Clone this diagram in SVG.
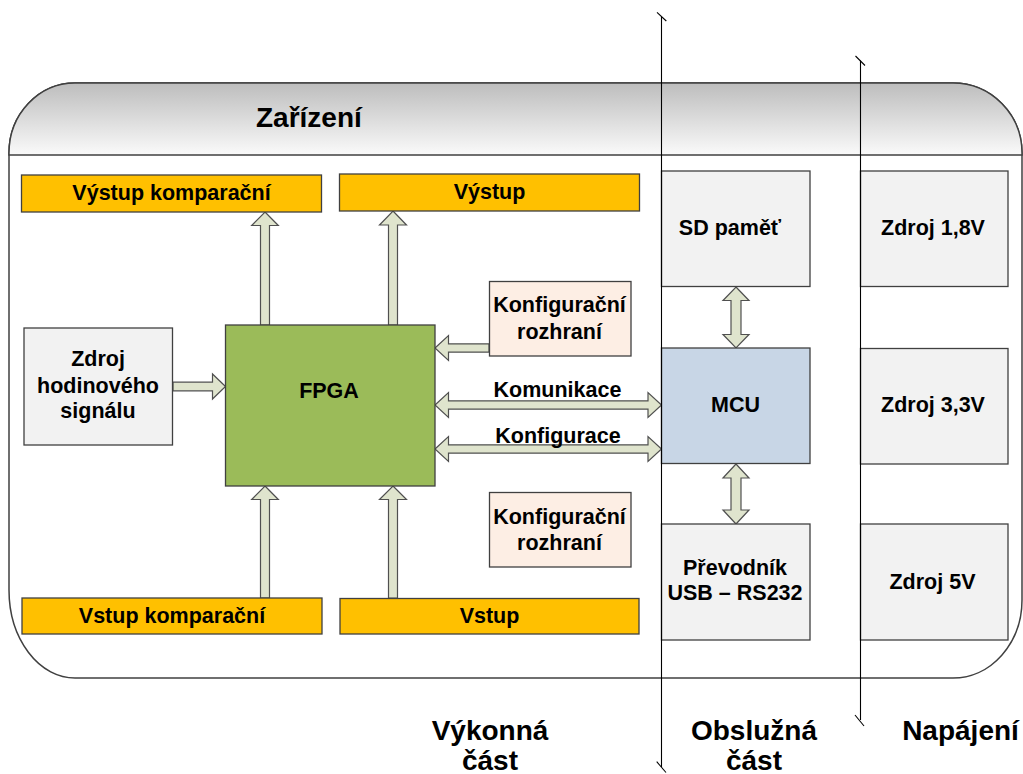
<svg xmlns="http://www.w3.org/2000/svg" width="1023" height="774" viewBox="0 0 1023 774">
  <defs>
    <linearGradient id="hdrGrad" x1="0" y1="0" x2="0" y2="1">
      <stop offset="0" stop-color="#bdbdbd"/>
      <stop offset="1" stop-color="#fafafa"/>
    </linearGradient>
    <style>
      .lbl { font-family: "Liberation Sans", Arial, sans-serif; font-weight: bold; font-size: 21.5px; fill: #000; text-anchor: middle; }
      .big { font-family: "Liberation Sans", Arial, sans-serif; font-weight: bold; font-size: 28px; fill: #000; text-anchor: middle; }
      .yel { fill: #ffc000; stroke: #404040; stroke-width: 1.3; }
      .gry { fill: #f2f2f2; stroke: #404040; stroke-width: 1.3; }
      .fpga { fill: #9bbb59; stroke: #404040; stroke-width: 1.3; }
      .mcu { fill: #c8d6e6; stroke: #404040; stroke-width: 1.3; }
      .cfg { fill: #fdeee4; stroke: #404040; stroke-width: 1.3; }
      .arr { fill: #dfe4cd; stroke: #505050; stroke-width: 1.2; stroke-linejoin: miter; }
      .div { fill: none; stroke: #000; stroke-width: 1.1; }
    </style>
  </defs>

  <rect width="1023" height="774" fill="#ffffff"/>

  <!-- Device container with grey header band -->
  <g id="container">
    <path d="M75,83 L953,83 A69,70 0 0 1 1022,153 L1022,600 A69,78 0 0 1 953,678 L75,678 A66,88 0 0 1 9,590 L9,153 A66,70 0 0 1 75,83 Z" fill="#ffffff" stroke="#404040" stroke-width="1.5"/>
    <path d="M9,155 L9,153 A66,70 0 0 1 75,83 L953,83 A69,70 0 0 1 1022,153 L1022,155 Z" fill="url(#hdrGrad)" stroke="#404040" stroke-width="1.5"/>
    <text x="256" y="127" class="big" style="text-anchor:start">Zařízení</text>
  </g>

  <!-- Connectors (block arrows) -->
  <g id="connectors">
    <!-- FPGA -> Výstup komparační -->
    <polygon class="arr" points="265,212 278.3,225.5 269.5,225.5 269.5,325 260.5,325 260.5,225.5 251.7,225.5"/>
    <!-- FPGA -> Výstup -->
    <polygon class="arr" points="393,211 406.5,225 397.5,225 397.5,325 388.5,325 388.5,225 379.5,225"/>
    <!-- Vstup komparační -> FPGA -->
    <polygon class="arr" points="265,486 278.3,499.5 269.5,499.5 269.5,598 260.5,598 260.5,499.5 251.7,499.5"/>
    <!-- Vstup -> FPGA -->
    <polygon class="arr" points="393,486 406.5,499.5 397.5,499.5 397.5,598 388.5,598 388.5,499.5 379.5,499.5"/>
    <!-- Clock source -> FPGA -->
    <polygon class="arr" points="225.5,386.5 212.5,374 212.5,382.2 173,382.2 173,390.8 212.5,390.8 212.5,399"/>
    <!-- Configuration interface -> FPGA -->
    <polygon class="arr" points="435,348 448.5,335.5 448.5,343.8 489,343.8 489,352.2 448.5,352.2 448.5,360.5"/>
    <!-- Komunikace FPGA <-> MCU -->
    <polygon class="arr" points="435,405 448.5,392.5 448.5,400.8 648,400.8 648,392.5 661.5,405 648,417.5 648,409.2 448.5,409.2 448.5,417.5"/>
    <!-- Konfigurace FPGA <-> MCU -->
    <polygon class="arr" points="435,449 448.5,436.5 448.5,444.8 648,444.8 648,436.5 661.5,449 648,461.5 648,453.2 448.5,453.2 448.5,461.5"/>
    <!-- SD <-> MCU -->
    <polygon class="arr" points="736,287 749,300.5 741,300.5 741,334.5 749,334.5 736,348 723,334.5 731,334.5 731,300.5 723,300.5"/>
    <!-- MCU <-> USB converter -->
    <polygon class="arr" points="736,464 749,478 741,478 741,510 749,510 736,524 723,510 731,510 731,478 723,478"/>
  </g>

  <g id="vystup-komparacni">
    <rect class="yel" x="21.5" y="175" width="300" height="37"/>
    <text class="lbl" x="171.5" y="199.5">Výstup komparační</text>
  </g>
  <g id="vystup">
    <rect class="yel" x="339.5" y="174" width="300" height="37"/>
    <text class="lbl" x="489.5" y="199">Výstup</text>
  </g>
  <g id="vstup-komparacni">
    <rect class="yel" x="22" y="598" width="300" height="36"/>
    <text class="lbl" x="172" y="623">Vstup komparační</text>
  </g>
  <g id="vstup">
    <rect class="yel" x="340" y="598.5" width="299" height="35.5"/>
    <text class="lbl" x="489.5" y="623">Vstup</text>
  </g>

  <g id="zdroj-hodin">
    <rect class="gry" x="24" y="328" width="148.5" height="117"/>
    <text class="lbl" x="98" y="366">Zdroj</text>
    <text class="lbl" x="98" y="392.5">hodinového</text>
    <text class="lbl" x="98" y="418">signálu</text>
  </g>

  <g id="fpga">
    <rect class="fpga" x="225.5" y="325" width="209.5" height="161"/>
    <text class="lbl" x="329" y="398">FPGA</text>
  </g>

  <g id="konfig-rozhrani-1">
    <rect class="cfg" x="489.5" y="281.5" width="141.5" height="74.5"/>
    <text class="lbl" x="559.5" y="311.5">Konfigurační</text>
    <text class="lbl" x="559.5" y="338.5">rozhraní</text>
  </g>
  <g id="konfig-rozhrani-2">
    <rect class="cfg" x="489.5" y="492.5" width="141.5" height="74.5"/>
    <text class="lbl" x="559.5" y="523.5">Konfigurační</text>
    <text class="lbl" x="559.5" y="550">rozhraní</text>
  </g>

  <!-- Connector labels -->
  <g id="labels">
    <text class="lbl" x="557.5" y="396.5">Komunikace</text>
    <text class="lbl" x="558" y="442.5">Konfigurace</text>
  </g>

  <g id="sd">
    <rect class="gry" x="661.5" y="171" width="148.5" height="115.5"/>
    <text class="lbl" x="730" y="235">SD paměť</text>
  </g>
  <g id="mcu">
    <rect class="mcu" x="661.5" y="348" width="148.5" height="115.5"/>
    <text class="lbl" x="735.5" y="411.5">MCU</text>
  </g>
  <g id="prevodnik">
    <rect class="gry" x="661.5" y="524" width="148.5" height="116"/>
    <text class="lbl" x="735" y="575">Převodník</text>
    <text class="lbl" x="735" y="600">USB – RS232</text>
  </g>

  <g id="zdroj-18">
    <rect class="gry" x="860.5" y="171" width="147.5" height="115.5"/>
    <text class="lbl" x="933" y="235">Zdroj 1,8V</text>
  </g>
  <g id="zdroj-33">
    <rect class="gry" x="860.5" y="348.5" width="147.5" height="115.5"/>
    <text class="lbl" x="933" y="411.5">Zdroj 3,3V</text>
  </g>
  <g id="zdroj-5">
    <rect class="gry" x="860.5" y="524" width="147.5" height="116"/>
    <text class="lbl" x="932.5" y="588.5">Zdroj 5V</text>
  </g>

  <!-- Section dividers with break ticks at the ends -->
  <g id="dividers">
    <line class="div" x1="661.5" y1="16.5" x2="661.5" y2="767"/>
    <line class="div" x1="657" y1="12.3" x2="666.3" y2="21"/>
    <line class="div" x1="656.7" y1="761.7" x2="666" y2="772.5"/>
    <line class="div" x1="860.5" y1="60.5" x2="860.5" y2="720"/>
    <line class="div" x1="855.5" y1="56" x2="865" y2="65.5"/>
    <line class="div" x1="855" y1="715" x2="864" y2="726"/>
  </g>

  <!-- Section captions -->
  <g id="captions">
    <text class="big" x="490" y="740">Výkonná</text>
    <text class="big" x="490" y="770">část</text>
    <text class="big" x="754" y="740">Obslužná</text>
    <text class="big" x="754" y="770">část</text>
    <text class="big" x="960.5" y="740">Napájení</text>
  </g>
</svg>
